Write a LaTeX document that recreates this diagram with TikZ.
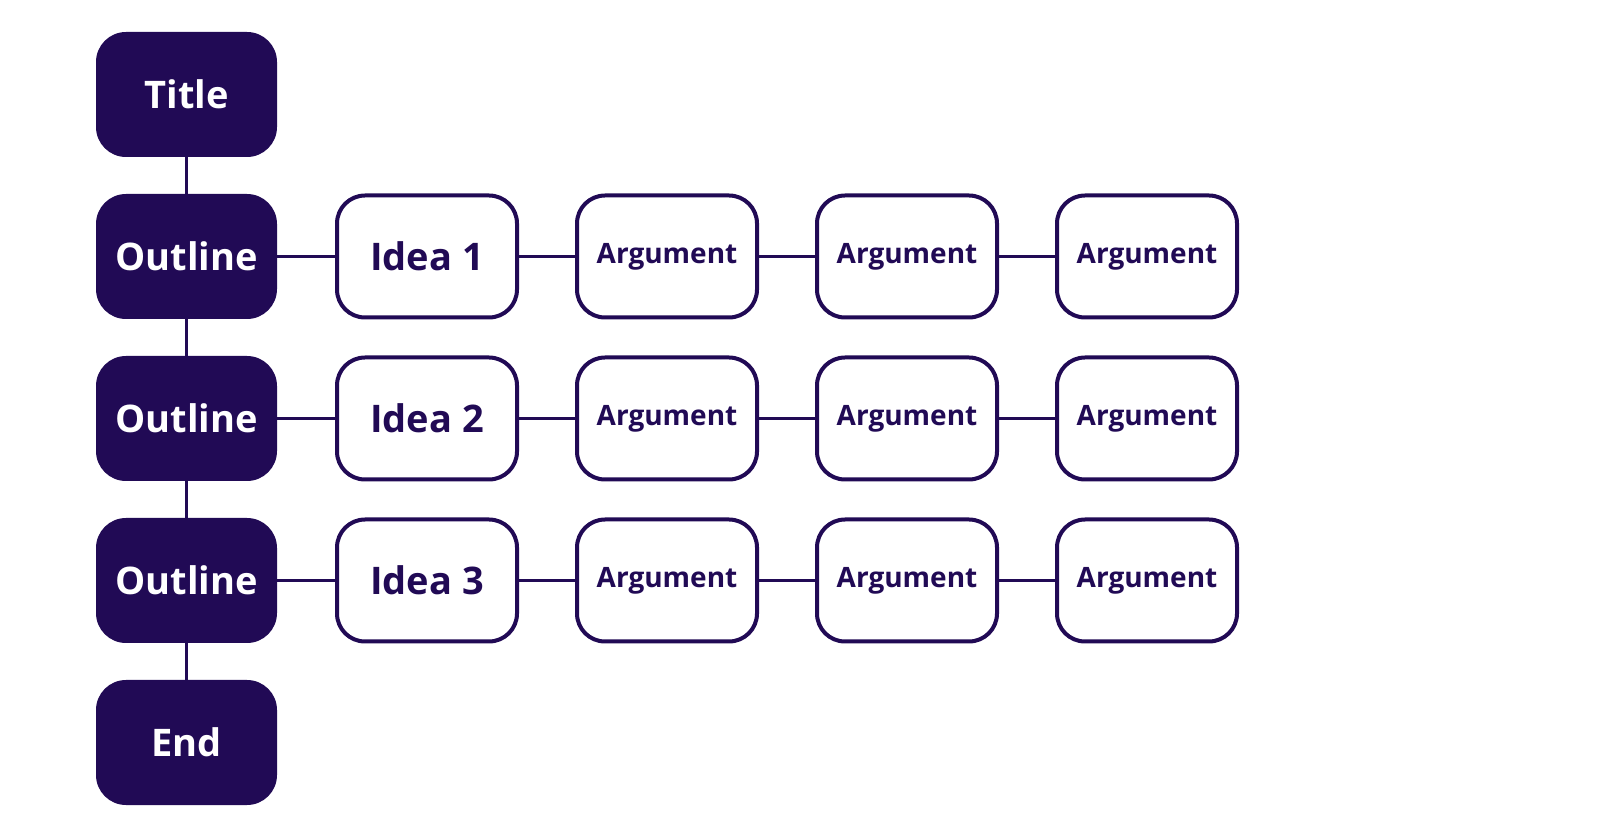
\documentclass[tikz,border=0pt]{standalone}
\usepackage{fontspec}
\setmainfont{Open Sans}
\usetikzlibrary{positioning}
\definecolor{ink}{HTML}{210A55}

\begin{document}
\begin{tikzpicture}[x=0.5pt,y=-0.5pt,
  dark/.style={rectangle,rounded corners=15pt,fill=ink,text=white,
    minimum width=90.5pt,minimum height=62.5pt,
    font=\bfseries\fontsize{19}{22}\selectfont},
  light/.style={rectangle,rounded corners=14pt,draw=ink,line width=2pt,
    fill=white,text=ink,minimum width=90pt,minimum height=61pt,
    font=\bfseries\fontsize{14}{16}\selectfont},
  idea/.style={light,font=\bfseries\fontsize{19}{22}\selectfont},
  link/.style={draw=ink,line width=1.8pt}]
\useasboundingbox (0,0) rectangle (1600,838);

% the main column
\node[dark] (title) at (186.5,94.5) {Title};
\foreach \i in {1,2,3}
  \node[dark] (out\i) at (186.5,94.5+162*\i) {Outline};
\node[dark] (end) at (186.5,742.5) {End};

% ideas and their arguments
\foreach \i in {1,2,3} {
  \node[idea] (idea\i) at (427,94.5+162*\i) {Idea \i};
  \foreach \j in {1,2,3}
    \node[light] (arg\i\j) at (427+240*\j,94.5+162*\i) {Argument};
}

% connectors
\draw[link] (title) -- (out1) -- (out2) -- (out3) -- (end);
\foreach \i in {1,2,3}
  \draw[link] (out\i) -- (idea\i) -- (arg\i1) -- (arg\i2) -- (arg\i3);
\end{tikzpicture}
\end{document}
